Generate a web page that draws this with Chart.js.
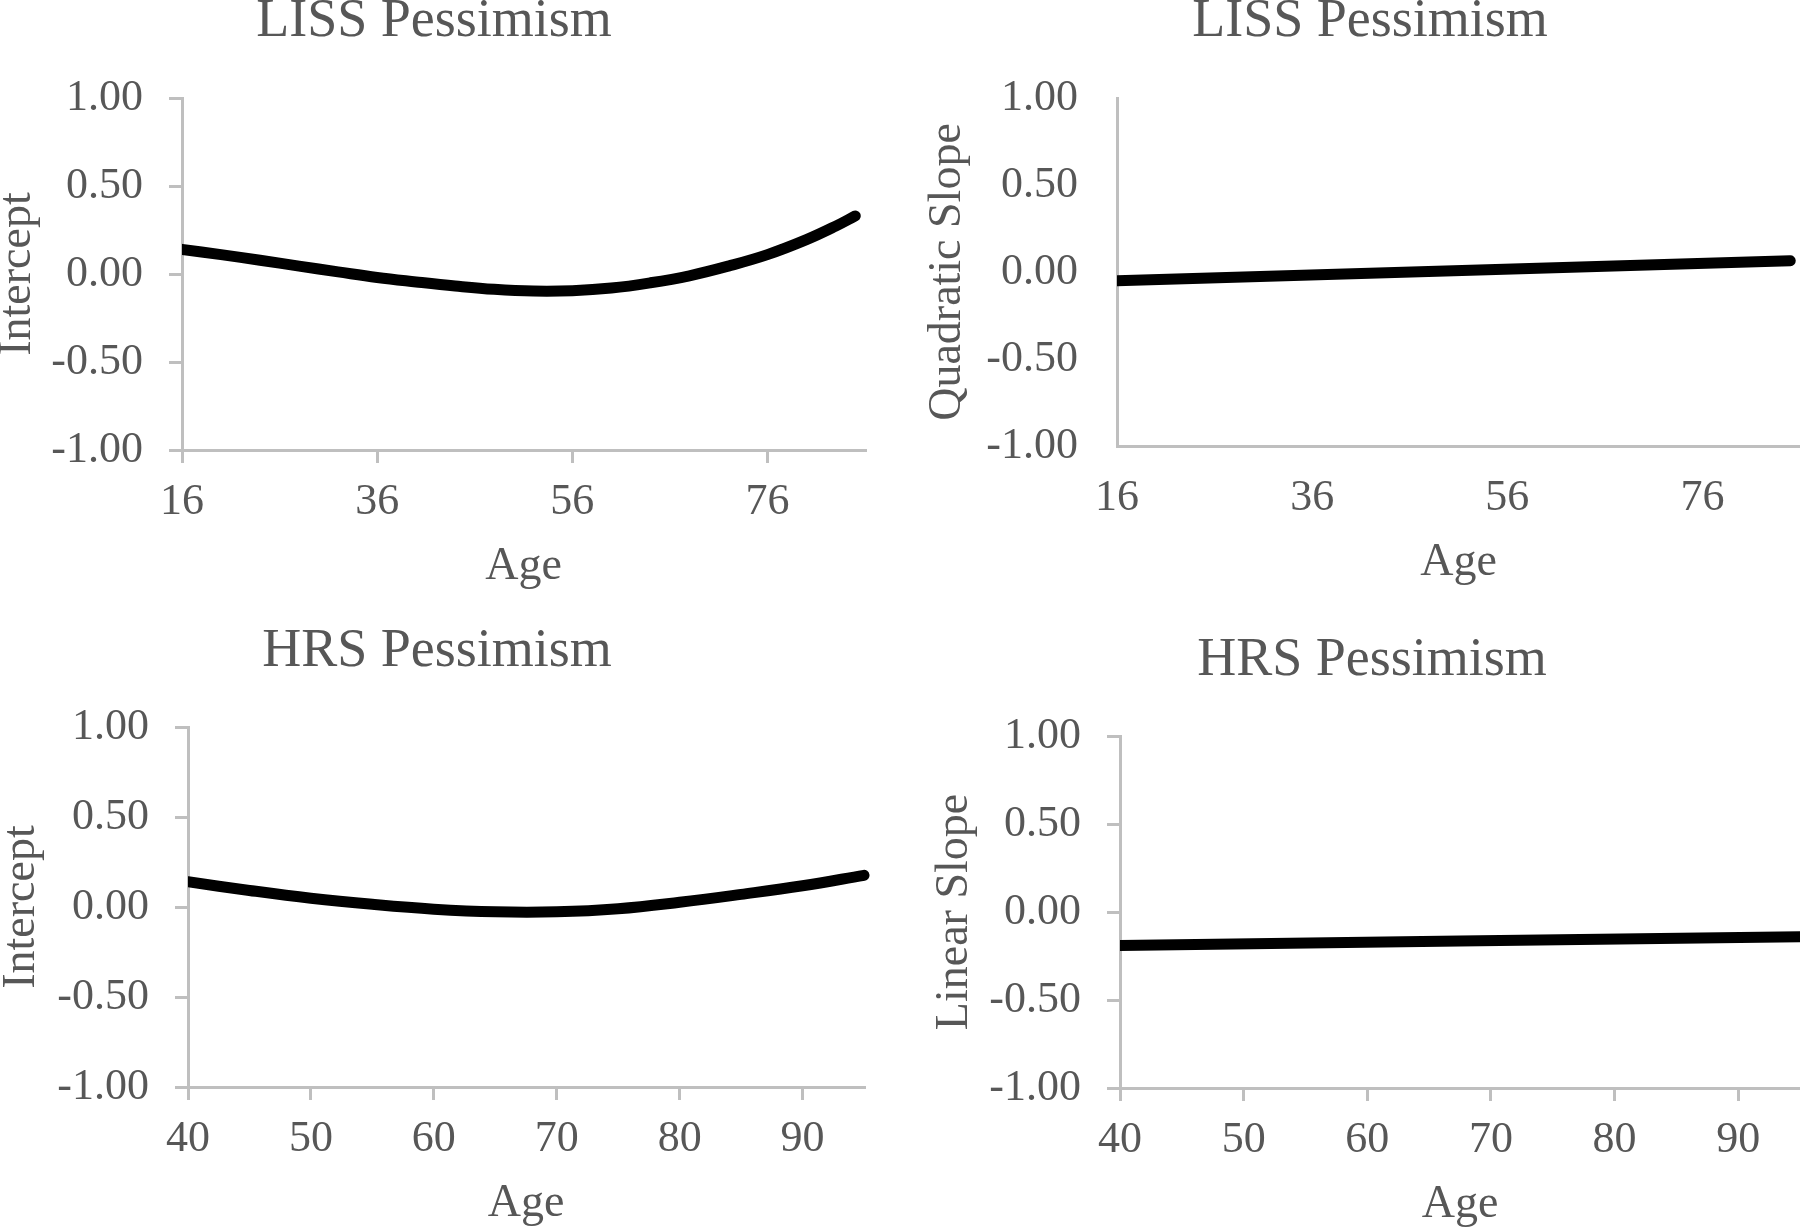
<!DOCTYPE html>
<html>
<head>
<meta charset="utf-8">
<script src="https://cdn.jsdelivr.net/npm/chart.js@4.4.1/dist/chart.umd.min.js"></script>
<style>
  html, body { margin: 0; padding: 0; width: 1800px; height: 1228px; overflow: hidden; background: #fff; }
  canvas { position: absolute; }
</style>
</head>
<body>
<script>
// LISS panels (age 16..85)
const lissAges = [16, 20, 24, 28, 32, 36, 40, 44, 48, 52, 56, 60, 64, 68, 72, 76, 80, 83, 85];
const lissIntercept = [0.14, 0.11, 0.078, 0.045, 0.012, -0.02, -0.045, -0.068, -0.087, -0.097, -0.095, -0.08, -0.05, -0.01, 0.045, 0.11, 0.195, 0.272, 0.33];
const lissQuadAges = [16, 85];
const lissQuadSlope = [-0.05, 0.065];
const lissAgeTicks = [16, 36, 56, 76];

// HRS panels (age 40..95)
const hrsAges = [40, 45, 50, 55, 60, 65, 70, 75, 80, 85, 90, 95];
const hrsIntercept = [0.14, 0.092, 0.049, 0.015, -0.012, -0.027, -0.027, -0.01, 0.026, 0.07, 0.118, 0.176];
const hrsLinAges = [40, 95];
const hrsLinSlope = [-0.19, -0.14];
const hrsAgeTicks = [40, 50, 60, 70, 80, 90];

const valueTicks = [-1, -0.5, 0, 0.5, 1];

const textColor = "#575757";
const axisColor = "#bfbfbf";
const fontFamily = "'Liberation Serif', 'Times New Roman', serif";
const TITLE_FS = 54, TICK_FS = 44, AXT_FS = 46, LH = 1.2;

// builds one panel; box = where the plot area should sit on the page
function makePanel(p) {
  const { L, R, T, B } = p.box;
  // left edge of the axis box, chosen so the title centres where it should
  const boxLeft = Math.round(2 * p.titleX - R);
  const padL = 60;
  const Lc = boxLeft - padL;
  const Tc = Math.round(p.titleY - (TITLE_FS * LH) / 2);
  const Wc = Math.ceil(R - Lc) + 20;
  const Hc = Math.round(B + 150 - Tc);
  const titlePadBottom = T - Tc - TITLE_FS * LH;
  const yW = L - boxLeft;
  const xH = Tc + Hc - B;
  const yTitlePad = p.yTitleX - boxLeft - (AXT_FS * LH) / 2;
  const xTitlePad = xH - (AXT_FS * LH) / 2 - 117;

  const canvas = document.createElement("canvas");
  canvas.width = Wc;
  canvas.height = Hc;
  canvas.style.left = Lc + "px";
  canvas.style.top = Tc + "px";
  canvas.style.width = Wc + "px";
  canvas.style.height = Hc + "px";
  document.body.appendChild(canvas);

  const tickColor = p.tickMarks ? axisColor : "rgba(0,0,0,0)";

  const config = {
    type: "line",
    data: {
      datasets: [
        {
          data: p.ages.map((a, i) => ({ x: a, y: p.values[i] })),
          borderColor: "#000",
          borderWidth: 11,
          pointRadius: 0,
          tension: 0.4,
          borderCapStyle: "round",
          clip: { left: 0, top: false, right: false, bottom: false },
        },
      ],
    },
    options: {
      responsive: false,
      animation: false,
      devicePixelRatio: 1,
      layout: { padding: { left: padL, top: 0, right: Lc + Wc - R, bottom: 0 } },
      plugins: {
        legend: { display: false },
        tooltip: { enabled: false },
        title: {
          display: true,
          text: p.title,
          color: textColor,
          font: { family: fontFamily, size: TITLE_FS, weight: "normal", lineHeight: LH },
          padding: { top: 0, bottom: titlePadBottom },
        },
      },
      scales: {
        x: {
          type: "linear",
          min: p.xMin,
          max: p.xMax,
          afterBuildTicks: (s) => { s.ticks = p.xTicks.map((v) => ({ value: v })); },
          afterFit: (s) => { s.height = xH; },
          ticks: {
            color: textColor,
            font: { family: fontFamily, size: TICK_FS, lineHeight: LH },
            padding: 13,
            maxRotation: 0,
            autoSkip: false,
          },
          grid: { display: true, drawOnChartArea: false, drawTicks: true, tickLength: 13, color: tickColor, lineWidth: 3 },
          border: { display: true, color: axisColor, width: 3 },
          title: {
            display: true,
            text: "Age",
            color: textColor,
            font: { family: fontFamily, size: AXT_FS, lineHeight: LH },
            padding: { top: 0, bottom: xTitlePad },
          },
        },
        y: {
          type: "linear",
          min: -1,
          max: 1,
          afterBuildTicks: (s) => { s.ticks = valueTicks.map((v) => ({ value: v })); },
          afterFit: (s) => { s.width = yW; },
          ticks: {
            color: textColor,
            font: { family: fontFamily, size: TICK_FS, lineHeight: LH },
            padding: 26,
            callback: (v) => Number(v).toFixed(2),
          },
          grid: { display: true, drawOnChartArea: false, drawTicks: true, tickLength: 13, color: tickColor, lineWidth: 3 },
          border: { display: true, color: axisColor, width: 3 },
          title: {
            display: true,
            text: p.yTitle,
            color: textColor,
            font: { family: fontFamily, size: AXT_FS, lineHeight: LH },
            padding: { top: yTitlePad, bottom: 0 },
          },
        },
      },
    },
  };
  return new Chart(canvas.getContext("2d"), config);
}

makePanel({
  title: "LISS Pessimism", yTitle: "Intercept",
  ages: lissAges, values: lissIntercept, xMin: 16, xMax: 86, xTicks: lissAgeTicks,
  box: { L: 182, R: 865, T: 98, B: 450 }, titleX: 434, titleY: 21, yTitleX: 17.5, tickMarks: true,
});
makePanel({
  title: "LISS Pessimism", yTitle: "Quadratic Slope",
  ages: lissQuadAges, values: lissQuadSlope, xMin: 16, xMax: 86, xTicks: lissAgeTicks,
  box: { L: 1117, R: 1800, T: 98, B: 446 }, titleX: 1370, titleY: 21, yTitleX: 948, tickMarks: false,
});
makePanel({
  title: "HRS Pessimism", yTitle: "Intercept",
  ages: hrsAges, values: hrsIntercept, xMin: 40, xMax: 95, xTicks: hrsAgeTicks,
  box: { L: 188, R: 864, T: 727, B: 1087 }, titleX: 437, titleY: 651, yTitleX: 22, tickMarks: true,
});
makePanel({
  title: "HRS Pessimism", yTitle: "Linear Slope",
  ages: hrsLinAges, values: hrsLinSlope, xMin: 40, xMax: 95, xTicks: hrsAgeTicks,
  box: { L: 1120, R: 1800, T: 736, B: 1088 }, titleX: 1372, titleY: 660, yTitleX: 955, tickMarks: true,
});
</script>
</body>
</html>
